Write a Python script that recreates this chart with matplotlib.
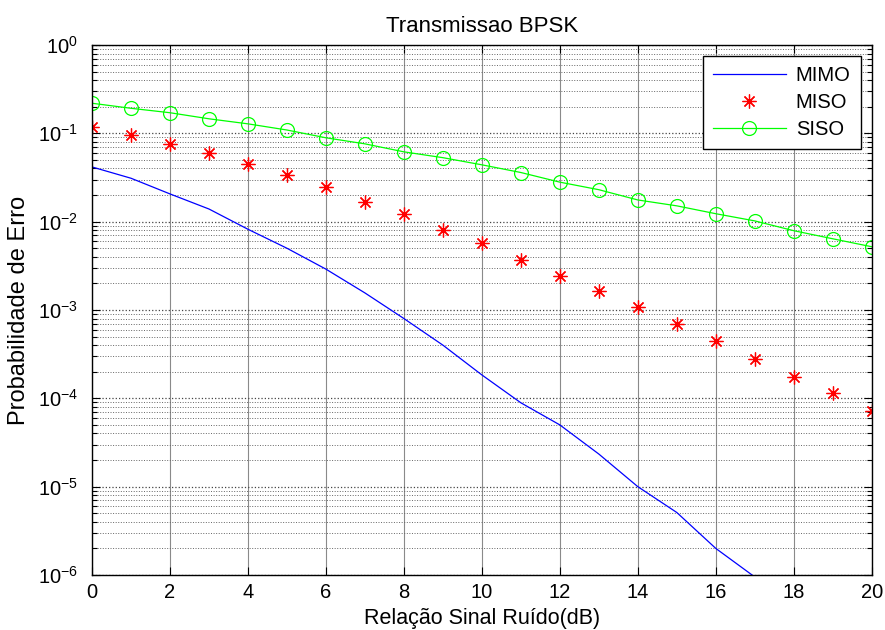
import numpy as np
import matplotlib
matplotlib.use("Agg")
import matplotlib.pyplot as plt
from matplotlib.ticker import FixedLocator, LogFormatterMathtext, NullFormatter, MultipleLocator

plt.rcParams['font.family'] = ['Liberation Sans', 'DejaVu Sans']
plt.rcParams['mathtext.fontset'] = 'custom'
plt.rcParams['mathtext.rm'] = 'Liberation Sans'
plt.rcParams['mathtext.it'] = 'Liberation Sans:italic'

# SNR axis (dB)
snr_db = np.arange(0, 21)
snr_mimo = np.arange(0, 18)

# bit error probabilities
ber_mimo = [0.0416, 0.031, 0.0206, 0.0139, 0.0082, 0.0050, 0.0029, 0.00156, 0.00080,
            0.00040, 0.000184, 8.9e-5, 5.0e-5, 2.34e-5, 1.0e-5, 5.1e-6, 2.0e-6, 9.5e-7]
ber_miso = [0.118, 0.096, 0.076, 0.060, 0.045, 0.0335, 0.0245, 0.0169, 0.0122, 0.0081,
            0.0057, 0.0037, 0.0024, 0.00164, 0.00107, 0.00069, 0.00044, 0.000279,
            0.000175, 0.000116, 7.2e-5]
ber_siso = [0.219, 0.192, 0.171, 0.146, 0.128, 0.109, 0.089, 0.076, 0.0617, 0.053,
            0.044, 0.036, 0.028, 0.023, 0.0176, 0.0151, 0.0123, 0.0102, 0.0079,
            0.0064, 0.0052]

decades = [1e-6, 1e-5, 1e-4, 1e-3, 1e-2, 1e-1, 1e0]

fig = plt.figure(figsize=(8.85, 6.3), dpi=100)
ax = fig.add_axes([0.104, 0.0873, 0.881, 0.8413])

ax.semilogy(snr_mimo, ber_mimo, color='blue', lw=0.9, label='MIMO')
ax.semilogy(snr_db, ber_miso, linestyle='none', marker=(8, 2, 0), markersize=10,
            color='red', markeredgewidth=0.9, label='MISO')
ax.semilogy(snr_db, ber_siso, color='#00ff00', lw=0.9, marker='o', markersize=10,
            markerfacecolor='none', markeredgecolor='#00ff00', markeredgewidth=0.9,
            label='SISO')

ax.set_xlim(0, 20)
ax.set_ylim(1e-6, 1)
ax.xaxis.set_major_locator(MultipleLocator(2))
minor = [d * k for d in decades[:-1] for k in range(2, 10)]
ax.yaxis.set_major_locator(FixedLocator(decades))
ax.yaxis.set_minor_locator(FixedLocator(minor))
ax.yaxis.set_major_formatter(LogFormatterMathtext())
ax.yaxis.set_minor_formatter(NullFormatter())

ax.tick_params(which='both', direction='in', top=True, right=True, labelsize=14.5)
ax.tick_params(which='major', length=6, width=0.8)
ax.tick_params(which='minor', length=3.5, width=0.8)
ax.tick_params(axis='x', pad=6)
ax.tick_params(axis='y', pad=10)

ax.grid(which='major', axis='x', color='#8a8a8a', linestyle='-', lw=0.8)
ax.grid(which='major', axis='y', color='#444444', linestyle=':', lw=0.9)
ax.grid(which='minor', axis='y', color='#666666', linestyle=':', lw=0.7)

for sp in ax.spines.values():
    sp.set_linewidth(1.0)

ax.set_title('Transmissao BPSK', fontsize=16, pad=9)
ax.set_xlabel('Relação Sinal Ruído(dB)', fontsize=15.5, labelpad=4)
ax.set_ylabel('Probabilidade de Erro', fontsize=17, labelpad=6)

leg = ax.legend(loc='upper right', fontsize=14.5, handlelength=3.6, handletextpad=0.5,
                fancybox=False, framealpha=1, edgecolor='black', borderaxespad=0.55,
                labelspacing=0.4, borderpad=0.5)
leg.get_frame().set_linewidth(1.0)

fig.savefig('out.png', dpi=100)
